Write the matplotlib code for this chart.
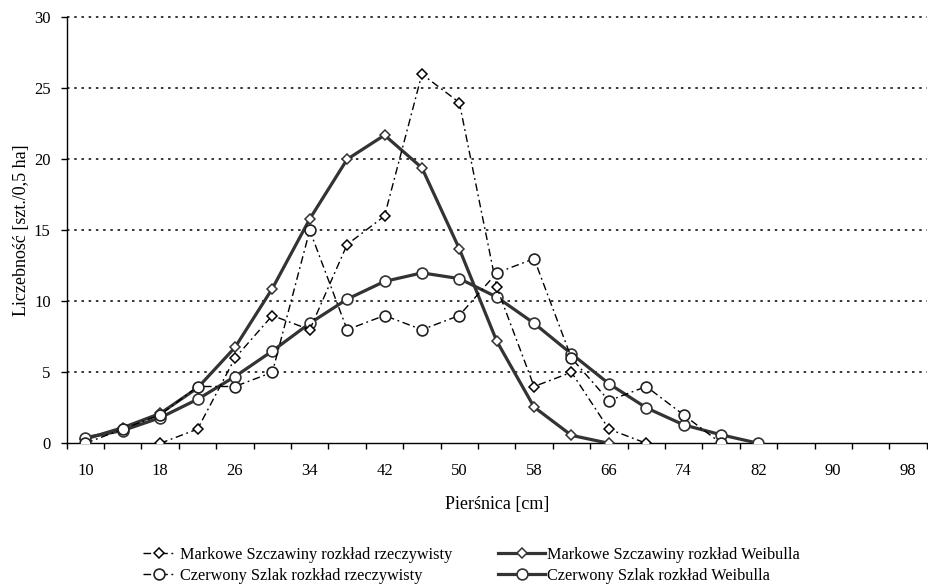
import numpy as np
import matplotlib
matplotlib.use("Agg")
import matplotlib.pyplot as plt
from matplotlib.ticker import FixedLocator, NullFormatter, FixedFormatter

plt.rcParams["font.family"] = ["Liberation Serif", "DejaVu Serif"]
plt.rcParams["lines.scale_dashes"] = False

# Diameter classes (cm)
dbh = list(range(10, 99, 4))
nan = np.nan

# Observed and Weibull-fitted counts per 0.5 ha
ms_real = [nan, nan, 0, 1, 6, 9, 8, 14, 16, 26, 24, 11, 4, 5, 1, 0,
           nan, nan, nan, nan, nan, nan, nan]
cs_real = [0, 1, 2, 4, 4, 5, 15, 8, 9, 8, 9, 12, 13, 6, 3, 4, 2, 0,
           nan, nan, nan, nan, nan]
ms_weib = [0.3, 1.1, 2.1, 3.9, 6.75, 10.9, 15.8, 20.0, 21.7, 19.4, 13.7,
           7.2, 2.55, 0.56, 0.0, nan, nan, nan, nan, nan, nan, nan, nan]
cs_weib = [0.4, 0.9, 1.8, 3.1, 4.7, 6.5, 8.45, 10.15, 11.4, 12.0, 11.6,
           10.3, 8.45, 6.3, 4.2, 2.5, 1.3, 0.6, 0.0, nan, nan, nan, nan]

labels_real = ["Markowe Szczawiny rozkład rzeczywisty",
               "Czerwony Szlak rozkład rzeczywisty"]
labels_weib = ["Markowe Szczawiny rozkład Weibulla",
               "Czerwony Szlak rozkład Weibulla"]

W, H = 929, 588
fig = plt.figure(figsize=(W / 100, H / 100), dpi=100)
ax = fig.add_axes([66.7 / W, 1 - 443.3 / H, 860 / W, 426 / H])

x = np.arange(len(dbh))
dashdot = (0, (5.5, 2.6, 1.3, 2.6))

l_ms_real, = ax.plot(x, ms_real, color="black", lw=1.0, ls=dashdot,
                     marker="D", ms=4.6, mfc="white", mec="black", mew=1.1,
                     zorder=4)
l_cs_real, = ax.plot(x, cs_real, color="black", lw=1.0, ls=dashdot,
                     marker="o", ms=7.8, mfc="white", mec="#222222", mew=1.2,
                     zorder=4)
l_ms_weib, = ax.plot(x, ms_weib, color="#333333", lw=2.3, ls="-",
                     marker="D", ms=4.6, mfc="white", mec="#333333", mew=1.1,
                     zorder=3)
l_cs_weib, = ax.plot(x, cs_weib, color="#333333", lw=2.3, ls="-",
                     marker="o", ms=7.8, mfc="white", mec="#333333", mew=1.2,
                     zorder=3)

ax.set_xlim(-0.5, len(dbh) - 0.5)
ax.set_ylim(0, 30)

# Category boundaries carry tick marks, every second class is labelled
ax.xaxis.set_major_locator(FixedLocator(np.arange(-0.5, len(dbh), 1.0)))
ax.xaxis.set_major_formatter(NullFormatter())
lab_pos = x[::2]
ax.xaxis.set_minor_locator(FixedLocator(lab_pos))
ax.xaxis.set_minor_formatter(FixedFormatter([str(dbh[i]) for i in lab_pos]))
ax.tick_params(axis="x", which="major", direction="out", length=4.5,
               width=1.0, color="black")
ax.tick_params(axis="x", which="minor", length=0, pad=14, labelsize=12)

ax.set_yticks(range(0, 31, 5))
ax.tick_params(axis="y", direction="out", length=4.5, width=1.0,
               color="black", pad=7, labelsize=12)

for side in ("top", "right"):
    ax.spines[side].set_visible(False)
for side in ("left", "bottom"):
    ax.spines[side].set_linewidth(1.0)
    ax.spines[side].set_color("black")

for yv in range(5, 31, 5):
    ax.axhline(yv, color="black", lw=1.1, ls=(0, (1.8, 3.4)), zorder=1,
               clip_on=False)

fig.text(22 / W, 1 - 230 / H, "Liczebność [szt./0,5 ha]", rotation=90,
         ha="center", va="center", fontsize=13)
fig.text(496.7 / W, 1 - 505 / H, "Pierśnica [cm]", ha="center",
         va="center", fontsize=13)

# Two legend columns: observed series (left), Weibull fits (right)
leg_kw = dict(loc="upper left", frameon=False, fontsize=11.7,
              labelspacing=0.3, borderaxespad=0, borderpad=0, numpoints=1)
fig.legend([l_ms_real, l_cs_real], labels_real,
           bbox_to_anchor=(143 / W, 1 - 547 / H),
           handlelength=2.0, handletextpad=0.3, **leg_kw)
fig.legend([l_ms_weib, l_cs_weib], labels_weib,
           bbox_to_anchor=(498 / W, 1 - 547 / H),
           handlelength=2.9, handletextpad=0.1, **leg_kw)

fig.savefig("out.png", dpi=100)
